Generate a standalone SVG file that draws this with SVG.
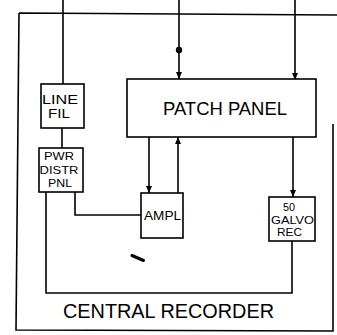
<svg xmlns="http://www.w3.org/2000/svg" width="337" height="335" viewBox="0 0 337 335">
<defs>
<marker id="arr" markerUnits="userSpaceOnUse" markerWidth="8" markerHeight="10" refX="7" refY="3" orient="auto">
<path d="M0,0 L7,3 L0,6 Z" fill="#000"/>
</marker>
<style>
.ln{fill:none;stroke:#000;stroke-width:1.6;stroke-linejoin:miter}
.box{fill:#fff;stroke:#000;stroke-width:1.6}
text{font-family:"Liberation Sans",Arial,sans-serif;fill:#000;text-anchor:middle}
.s13{font-size:11.5px}
.s15{font-size:12.5px}
.s12{font-size:10.8px}
.amp{font-size:13px}
</style>
</defs>
<rect width="337" height="335" fill="#fff"/>
<g id="frame">
<path class="ln" d="M19,13 L337,15 M19,13 L16,330 L333,331 L333,124"/>
</g>
<g id="connectors">
<line class="ln" x1="63" y1="0" x2="63" y2="84"/>
<line class="ln" x1="179" y1="0" x2="179" y2="79" marker-end="url(#arr)"/>
<circle cx="179" cy="50" r="3.2" fill="#000"/>
<line class="ln" x1="295" y1="0" x2="295" y2="80" marker-end="url(#arr)"/>
<line class="ln" x1="62" y1="128" x2="62" y2="148"/>
<line class="ln" x1="149" y1="137" x2="149" y2="193" marker-end="url(#arr)"/>
<line class="ln" x1="178" y1="193" x2="178" y2="137" marker-end="url(#arr)"/>
<line class="ln" x1="293" y1="137" x2="293" y2="197" marker-end="url(#arr)"/>
<polyline class="ln" points="75,192 75,215 141,215"/>
<polyline class="ln" points="46,192 46,293 292,293 292,241"/>
</g>
<g id="line-fil">
<rect class="box" x="41" y="84" width="43" height="44"/>
<text class="s15" x="60" y="103.5" textLength="36" lengthAdjust="spacingAndGlyphs">LINE</text>
<text class="s15" x="59" y="117.5" textLength="22" lengthAdjust="spacingAndGlyphs">FIL</text>
</g>
<g id="pwr-distr-pnl">
<rect class="box" x="39" y="148" width="44" height="44"/>
<text class="s13" x="59" y="160" textLength="30" lengthAdjust="spacingAndGlyphs">PWR</text>
<text class="s13" x="59" y="173.5" textLength="39" lengthAdjust="spacingAndGlyphs">DISTR</text>
<text class="s13" x="60" y="187" textLength="24" lengthAdjust="spacingAndGlyphs">PNL</text>
</g>
<g id="patch-panel">
<rect class="box" x="127" y="79" width="189" height="58"/>
<text x="225" y="115" font-size="17.5" textLength="124" lengthAdjust="spacingAndGlyphs">PATCH PANEL</text>
</g>
<g id="ampl">
<rect class="box" x="141" y="193" width="42" height="45"/>
<text class="amp" x="162.5" y="220" textLength="37" lengthAdjust="spacingAndGlyphs">AMPL</text>
</g>
<g id="galvo-rec">
<rect class="box" x="269" y="197" width="46" height="44"/>
<text class="s12" x="289" y="211" textLength="12" lengthAdjust="spacingAndGlyphs">50</text>
<text class="s12" x="292.5" y="223.5" textLength="43" lengthAdjust="spacingAndGlyphs">GALVO</text>
<text class="s12" x="289.5" y="236" textLength="25" lengthAdjust="spacingAndGlyphs">REC</text>
</g>
<g id="title">
<text x="168.5" y="318" font-size="20" textLength="211" lengthAdjust="spacingAndGlyphs">CENTRAL RECORDER</text>
</g>
<path d="M132,255.5 L143.5,260.5" stroke="#000" stroke-width="3" stroke-linecap="round" fill="none"/>
</svg>
